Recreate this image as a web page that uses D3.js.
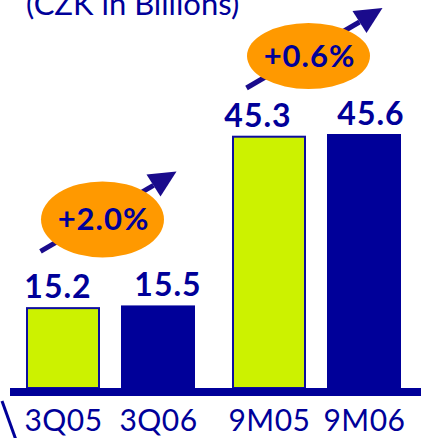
<!DOCTYPE html>
<html>
<head>
<meta charset="utf-8">
<script src="https://cdn.jsdelivr.net/npm/d3@7"></script>
<style>
  html, body { margin: 0; padding: 0; background: #ffffff; }
  svg { display: block; }
</style>
</head>
<body>
<script>
// ---- data ----
const title = "(CZK in Billions)";
const categories = ["3Q05", "3Q06", "9M05", "9M06"];
const groups = ["3Q", "9M"];
const years = ["05", "06"];
const values = [15.2, 15.5, 45.3, 45.6];
const valueLabels = ["15.2", "15.5", "45.3", "45.6"];
const growthLabels = ["+2.0%", "+0.6%"];

// ---- layout ----
const W = 421, H = 438;
const navy = "#000099", lime = "#CCF200", orange = "#FF9900", arrowCol = "#1A0B8C";
const baseY = 388;
const labelDx = [-5, 10, -11, 7];
const ellipseRy = [38, 33];
const ellipseDy = [86, 78];

const svg = d3.select("body").append("svg").attr("width", W).attr("height", H);

const outer = d3.scaleBand().domain(groups).range([26, 401]).paddingInner(0.1796).paddingOuter(0);
const inner = d3.scaleBand().domain(years).range([0, outer.bandwidth()]).paddingInner(0.221).paddingOuter(0);
const y = d3.scaleLinear().domain([1, 45.6]).range([baseY, 134]);

const data = categories.map((c, i) => ({
  cat: c, group: groups[Math.floor(i / 2)], year: years[i % 2], v: values[i], label: valueLabels[i], i
}));
const xPos = d => outer(d.group) + inner(d.year);

// title (partially cropped at top, as in the reference)
svg.append("text").attr("x", 26).attr("y", 15)
  .attr("font-family", "Lato, 'Open Sans', sans-serif").attr("font-size", 31)
  .attr("fill", navy).text(title);

// bars
svg.selectAll("rect.bar").data(data).enter().append("rect")
  .attr("class", "bar")
  .attr("x", d => xPos(d) + (d.year === "05" ? 1 : 0))
  .attr("y", d => y(d.v) + (d.year === "05" ? 1 : 0))
  .attr("width", d => inner.bandwidth() - (d.year === "05" ? 2 : 0))
  .attr("height", d => baseY - y(d.v) - (d.year === "05" ? 1 : 0))
  .attr("fill", d => d.year === "05" ? lime : navy)
  .attr("stroke", d => d.year === "05" ? "#0d0d9e" : "none")
  .attr("stroke-width", 2);

// baseline axis
svg.append("rect").attr("x", 10).attr("y", baseY).attr("width", W - 10).attr("height", 8).attr("fill", navy);

// category labels via axis
const xCat = d3.scaleOrdinal().domain(categories).range(data.map(d => xPos(d) + inner.bandwidth() / 2));
const axis = d3.axisBottom(xCat).tickSize(0).tickPadding(0);
const axG = svg.append("g").attr("transform", "translate(0,431)").call(axis);
axG.select(".domain").remove();
axG.selectAll("text")
  .attr("dy", 0).attr("y", 0)
  .attr("font-family", "Lato, 'Open Sans', sans-serif").attr("font-size", 30)
  .attr("letter-spacing", 0.5)
  .attr("fill", navy);

// value labels
svg.selectAll("text.val").data(data).enter().append("text")
  .attr("class", "val")
  .attr("x", d => xPos(d) + inner.bandwidth() / 2 + labelDx[d.i])
  .attr("y", d => y(d.v) - 9)
  .attr("text-anchor", "middle")
  .attr("font-family", "Lato, 'Open Sans', sans-serif").attr("font-weight", "bold")
  .attr("font-size", 32).attr("letter-spacing", 1)
  .attr("fill", navy).text(d => d.label);

// growth annotations
groups.forEach((g, gi) => {
  const gv = values.slice(gi * 2, gi * 2 + 2);
  const cx = outer(g) + outer.bandwidth() / 2 - 8;
  const cy = y(d3.max(gv)) - ellipseDy[gi];
  const start = [cx - 62, cy + 32];
  const tip = [cx + 74, cy - 48];
  const c1 = [tip[0] - 30, tip[1] + 3];
  const c2 = [tip[0] - 16, tip[1] + 25];
  const baseMid = [(c1[0] + c2[0]) / 2, (c1[1] + c2[1]) / 2];
  const ag = svg.append("g");
  ag.append("line")
    .attr("x1", start[0]).attr("y1", start[1])
    .attr("x2", baseMid[0]).attr("y2", baseMid[1])
    .attr("stroke", arrowCol).attr("stroke-width", 5);
  ag.append("path")
    .attr("d", d3.line()([tip, c1, c2]) + "Z")
    .attr("fill", arrowCol);
  ag.append("ellipse")
    .attr("cx", cx).attr("cy", cy).attr("rx", 61.5).attr("ry", ellipseRy[gi])
    .attr("fill", orange);
  ag.append("text")
    .attr("x", cx + 1).attr("y", cy + 11)
    .attr("text-anchor", "middle")
    .attr("font-family", "Lato, 'Open Sans', sans-serif").attr("font-weight", "bold")
    .attr("font-size", 31).attr("letter-spacing", 1)
    .attr("fill", navy).text(growthLabels[gi]);
});

// cropped decorative stroke at lower-left
svg.append("line").attr("x1", 2).attr("y1", 401).attr("x2", 16).attr("y2", 440)
  .attr("stroke", navy).attr("stroke-width", 3);
</script>
</body>
</html>
